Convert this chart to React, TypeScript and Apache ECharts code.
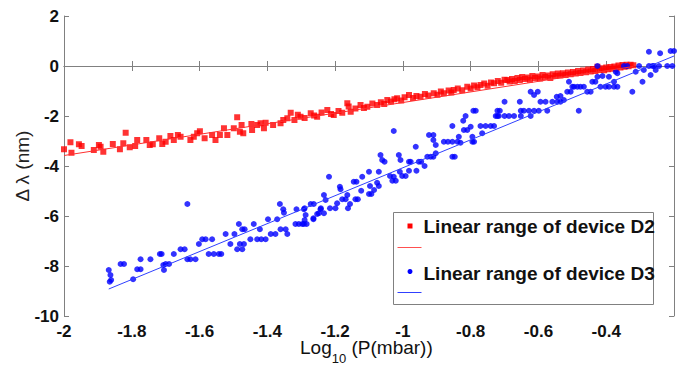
import React, { useEffect, useRef } from 'react';
import * as echarts from 'echarts';

const xMin = -2;
const xMax = -0.2;
const xStep = 0.2;
const yMin = -10;
const yMax = 2;
const yStep = 2;

const d2Name = 'Linear range of device D2';
const d3Name = 'Linear range of device D3';
const xTitleMain = 'Log';
const xTitleSub = '10';
const xTitleRest = ' (P(mbar))';
const yTitle = 'Δ λ (nm)';

const d2Points: number[][] = [
  [-2.0, -3.33], [-1.981, -3.05], [-1.978, -3.47], [-1.956, -3.13], [-1.948, -3.2], [-1.912, -3.36],
  [-1.897, -3.16], [-1.892, -3.23], [-1.884, -3.43], [-1.856, -3.12], [-1.835, -3.33], [-1.825, -3.09],
  [-1.818, -2.67], [-1.806, -3.25], [-1.79, -3.2], [-1.784, -2.96], [-1.757, -2.96], [-1.747, -3.16],
  [-1.738, -3.13], [-1.719, -2.89], [-1.71, -3.12], [-1.7, -3.03], [-1.686, -2.8], [-1.676, -2.96],
  [-1.664, -2.76], [-1.656, -2.83], [-1.627, -2.96], [-1.617, -2.83], [-1.607, -2.69], [-1.599, -2.61],
  [-1.585, -2.89], [-1.563, -2.76], [-1.553, -2.96], [-1.54, -2.76], [-1.528, -2.49], [-1.518, -2.76],
  [-1.499, -2.49], [-1.489, -2.05], [-1.481, -2.63], [-1.476, -2.36], [-1.471, -2.69], [-1.447, -2.32],
  [-1.445, -2.56], [-1.43, -2.36], [-1.42, -2.29], [-1.41, -2.49], [-1.405, -2.27], [-1.383, -2.36],
  [-1.361, -2.29], [-1.353, -2.16], [-1.341, -2.09], [-1.331, -1.87],
  [-1.32, -2.16], [-1.31, -1.95], [-1.302, -2.03], [-1.29, -2.08], [-1.272, -1.89], [-1.262, -1.98],
  [-1.253, -2.03], [-1.24, -1.86], [-1.223, -1.76], [-1.212, -1.92], [-1.204, -1.96], [-1.19, -1.8],
  [-1.179, -1.87], [-1.164, -1.49], [-1.16, -1.62], [-1.154, -1.83], [-1.14, -1.7], [-1.125, -1.56],
  [-1.115, -1.68], [-1.105, -1.63], [-1.09, -1.5], [-1.076, -1.56], [-1.065, -1.45], [-1.055, -1.52],
  [-1.046, -1.36], [-1.035, -1.42], [-1.025, -1.33], [-1.017, -1.29], [-1.005, -1.38], [-0.995, -1.25],
  [-0.982, -1.16], [-0.97, -1.28], [-0.96, -1.2], [-0.948, -1.23], [-0.935, -1.12], [-0.925, -1.18],
  [-0.909, -1.09], [-0.898, -1.15], [-0.888, -1.02], [-0.879, -1.09], [-0.865, -0.98], [-0.857, -1.06],
  [-0.85, -0.96], [-0.838, -0.9], [-0.825, -0.97], [-0.81, -0.83], [-0.8, -0.9], [-0.79, -0.78],
  [-0.78, -0.85], [-0.771, -0.76], [-0.76, -0.7], [-0.75, -0.79], [-0.74, -0.66], [-0.731, -0.69],
  [-0.72, -0.6], [-0.71, -0.67], [-0.7, -0.55], [-0.692, -0.56],
  [-0.685, -0.62], [-0.678, -0.52], [-0.67, -0.6], [-0.662, -0.48], [-0.655, -0.56], [-0.648, -0.44],
  [-0.64, -0.52], [-0.632, -0.46], [-0.625, -0.55], [-0.618, -0.4], [-0.61, -0.48], [-0.602, -0.42],
  [-0.595, -0.5], [-0.588, -0.36], [-0.58, -0.44], [-0.572, -0.38], [-0.565, -0.48], [-0.558, -0.33],
  [-0.55, -0.4], [-0.543, -0.3], [-0.535, -0.38], [-0.528, -0.29], [-0.52, -0.36], [-0.513, -0.26],
  [-0.505, -0.33], [-0.498, -0.24], [-0.49, -0.3], [-0.483, -0.2], [-0.476, -0.28], [-0.468, -0.18],
  [-0.46, -0.25], [-0.453, -0.14], [-0.446, -0.22], [-0.439, -0.12], [-0.432, -0.2], [-0.426, -0.03],
  [-0.42, -0.16], [-0.413, -0.09], [-0.406, -0.17], [-0.4, -0.06], [-0.394, -0.13], [-0.388, -0.04],
  [-0.382, -0.11], [-0.376, -0.02], [-0.37, -0.1], [-0.364, 0.02], [-0.358, -0.06], [-0.352, 0.04],
  [-0.346, -0.03], [-0.34, 0.05], [-0.334, -0.01], [-0.328, 0.05], [-0.32, 0.03],
];

const d3Points: number[][] = [
  [-1.868, -8.16], [-1.863, -8.36], [-1.861, -8.56], [-1.865, -8.63], [-1.833, -7.92], [-1.823, -7.92],
  [-1.796, -8.53], [-1.784, -8.13], [-1.774, -8.13], [-1.774, -7.73], [-1.745, -7.73], [-1.717, -7.52],
  [-1.712, -7.52], [-1.707, -7.96], [-1.7, -7.92], [-1.69, -7.92], [-1.705, -8.16], [-1.676, -7.52],
  [-1.656, -7.33], [-1.644, -7.33], [-1.636, -7.73], [-1.627, -7.73], [-1.612, -7.73], [-1.636, -5.52],
  [-1.602, -7.12], [-1.592, -6.93], [-1.582, -6.93], [-1.563, -6.93], [-1.573, -7.52], [-1.558, -7.52],
  [-1.543, -7.52], [-1.536, -7.52], [-1.523, -6.72], [-1.509, -7.12], [-1.497, -6.72], [-1.489, -7.33],
  [-1.474, -7.33], [-1.481, -7.12], [-1.469, -7.12], [-1.484, -6.32], [-1.474, -6.53], [-1.467, -6.53],
  [-1.45, -6.93], [-1.44, -6.32], [-1.43, -6.93], [-1.418, -6.93], [-1.405, -6.93], [-1.422, -6.53],
  [-1.398, -6.13], [-1.39, -6.72], [-1.376, -6.72], [-1.371, -6.13], [-1.361, -6.53], [-1.346, -6.53],
  [-1.341, -6.72], [-1.363, -5.52], [-1.353, -5.73], [-1.351, -5.87], [-1.317, -6.32], [-1.307, -6.32],
  [-1.292, -6.32], [-1.284, -6.32], [-1.314, -5.73], [-1.292, -5.73], [-1.272, -5.52], [-1.264, -6.13],
  [-1.253, -5.92], [-1.243, -5.73],
  [-1.29, -5.69], [-1.287, -5.96], [-1.29, -6.16], [-1.297, -6.32], [-1.264, -6.09], [-1.263, -5.52],
  [-1.248, -5.89], [-1.242, -5.69], [-1.233, -5.89], [-1.233, -5.16], [-1.228, -5.36], [-1.218, -4.43],
  [-1.215, -5.69], [-1.199, -5.69], [-1.194, -5.49], [-1.186, -4.83], [-1.184, -4.93], [-1.179, -5.33],
  [-1.169, -5.33], [-1.162, -5.69], [-1.156, -5.52], [-1.164, -5.16], [-1.145, -4.63], [-1.137, -4.63],
  [-1.14, -5.33], [-1.133, -5.33], [-1.123, -4.99], [-1.12, -4.43], [-1.1, -4.23], [-1.1, -5.12],
  [-1.093, -5.12], [-1.085, -4.96], [-1.097, -4.8], [-1.071, -4.8], [-1.076, -4.67], [-1.071, -4.23],
  [-1.066, -3.56], [-1.061, -3.76], [-1.054, -3.83], [-1.038, -4.4], [-1.031, -4.59], [-1.021, -4.59],
  [-1.027, -4.43], [-1.027, -2.6], [-1.012, -3.56], [-1.007, -3.76], [-1.009, -4.23], [-1.002, -4.4],
  [-0.992, -4.4], [-0.982, -4.19], [-0.982, -3.83], [-0.977, -3.83], [-0.962, -3.23], [-0.96, -4.19],
  [-0.953, -3.83], [-0.946, -3.83], [-0.936, -4.0], [-0.928, -3.63], [-0.918, -3.63], [-0.91, -3.63],
  [-0.903, -3.49], [-0.923, -2.76], [-0.91, -2.76], [-0.91, -2.96], [-0.903, -3.16], [-0.879, -3.03],
  [-0.867, -3.03], [-0.854, -3.03], [-0.839, -3.03], [-0.854, -2.4], [-0.854, -3.63], [-0.847, -3.63],
  [-0.835, -2.83], [-0.83, -3.07], [-0.822, -2.19], [-0.815, -2.0], [-0.82, -2.56], [-0.81, -2.56],
  [-0.8, -2.43], [-0.795, -2.83], [-0.795, -3.03], [-0.79, -3.03], [-0.792, -1.79], [-0.785, -1.79],
  [-0.771, -2.4], [-0.756, -2.4], [-0.741, -2.4], [-0.731, -2.4], [-0.766, -2.69], [-0.721, -1.79],
  [-0.714, -1.79], [-0.721, -2.0],
  [-0.7, -1.43], [-0.726, -2.0], [-0.717, -2.0], [-0.7, -2.0], [-0.687, -2.0], [-0.672, -2.0],
  [-0.652, -2.0], [-0.652, -1.79], [-0.643, -1.79], [-0.628, -1.79], [-0.613, -1.79], [-0.599, -1.79],
  [-0.655, -1.43], [-0.623, -1.03], [-0.613, -1.16], [-0.602, -1.03], [-0.623, -2.0], [-0.594, -1.43],
  [-0.579, -1.43], [-0.574, -1.79], [-0.559, -1.43], [-0.544, -1.43], [-0.535, -1.43], [-0.525, -1.36],
  [-0.546, -1.23], [-0.535, -1.2], [-0.515, -1.03], [-0.505, -1.03], [-0.5, -0.83], [-0.51, -0.63],
  [-0.495, -0.83], [-0.485, -0.83], [-0.476, -0.83], [-0.466, -0.83], [-0.456, -1.03], [-0.446, -1.03],
  [-0.481, -1.79], [-0.441, -0.63], [-0.432, -0.63], [-0.426, -0.43], [-0.417, -0.83], [-0.402, -0.83],
  [-0.392, -0.83], [-0.377, -0.83], [-0.367, -0.83], [-0.426, 0.0], [-0.411, -0.4], [-0.392, -0.43],
  [-0.377, -0.63], [-0.367, -0.29], [-0.372, -0.23], [-0.348, 0.0], [-0.338, 0.0], [-0.323, -1.03],
  [-0.313, -0.23], [-0.303, 0.0], [-0.293, -0.63], [-0.289, -0.16], [-0.274, 0.0], [-0.264, 0.0],
  [-0.259, 0.0], [-0.244, 0.0], [-0.269, -0.36], [-0.254, -0.16], [-0.274, 0.57], [-0.241, 0.51],
  [-0.22, 0.0], [-0.205, 0.0], [-0.21, 0.6], [-0.2, 0.6],
];

const d2Fit: number[][] = [[-2, -3.58], [-0.32, -0.02]];
const d3Fit: number[][] = [[-1.868, -8.92], [-0.2, 0.4]];

const FONT = "'Liberation Sans', Arial, sans-serif";
const AXIS_COLOR = '#808080';

export default function App() {
  const ref = useRef<HTMLDivElement>(null);
  useEffect(() => {
    if (!ref.current) return;
    const chart = echarts.init(ref.current, undefined, { renderer: 'svg' });
    const fmtX = (v: number) => (Math.abs(v - xMax) < 1e-6 ? '' : String(+v.toFixed(1)));
    const baseAxis = {
      axisLine: { show: true, lineStyle: { color: AXIS_COLOR, width: 1 } },
      axisTick: { show: true, inside: true, length: 5, lineStyle: { color: AXIS_COLOR } },
      splitLine: { show: false },
    };
    const gx = 64, gy = 16, gw = 610, gh = 300;
    const lx = 393, ly = 212;
    const titleX = 300, titleY = 347;
    const mainW = 31.7, subW = 14.5;
    chart.setOption({
      animation: false,
      backgroundColor: '#ffffff',
      grid: { left: gx, top: gy, width: gw, height: gh, containLabel: false, outerBoundsMode: 'none' },
      xAxis: [
        {
          type: 'value', min: xMin, max: xMax, interval: xStep, position: 'bottom',
          ...baseAxis,
          axisLabel: { formatter: fmtX, color: '#111', fontFamily: FONT, fontWeight: 'bold', fontSize: 17, margin: 7 },
        },
        {
          type: 'value', min: xMin, max: xMax, interval: xStep, position: 'top',
          ...baseAxis,
          axisLabel: { show: false },
        },
      ],
      yAxis: [
        {
          type: 'value', min: yMin, max: yMax, interval: yStep, position: 'left',
          ...baseAxis,
          axisLabel: { color: '#111', fontFamily: FONT, fontWeight: 'bold', fontSize: 17, margin: 5 },
          name: yTitle,
          nameLocation: 'middle',
          nameGap: 32,
          nameRotate: 90,
          nameMoveOverlap: false,
          nameTextStyle: { fontFamily: FONT, fontSize: 19, color: '#222' },
        },
        {
          type: 'value', min: yMin, max: yMax, interval: yStep, position: 'right',
          ...baseAxis,
          axisLabel: { show: false },
        },
      ],
      series: [
        {
          name: d2Name, type: 'scatter', data: d2Points, symbol: 'rect', symbolSize: 6,
          itemStyle: { color: '#ff0000' }, xAxisIndex: 0, yAxisIndex: 0, clip: true,
        },
        {
          type: 'line', data: d2Fit, symbol: 'none', lineStyle: { color: '#ff3030', width: 1 },
          xAxisIndex: 0, yAxisIndex: 0,
        },
        {
          name: d3Name, type: 'scatter', data: d3Points, symbol: 'circle', symbolSize: 6,
          itemStyle: { color: '#0000ff' }, xAxisIndex: 0, yAxisIndex: 0, clip: true,
        },
        {
          type: 'line', data: d3Fit, symbol: 'none', lineStyle: { color: '#3040ff', width: 1 },
          xAxisIndex: 0, yAxisIndex: 0,
        },
      ],
      graphic: [
        {
          type: 'text', x: titleX, y: titleY, z: 100,
          style: { text: xTitleMain, fontFamily: FONT, fontSize: 19, fill: '#111', align: 'left', verticalAlign: 'middle' },
        },
        {
          type: 'text', x: titleX + mainW, y: titleY + 11, z: 100,
          style: { text: xTitleSub, fontFamily: FONT, fontSize: 13, fill: '#111', align: 'left', verticalAlign: 'middle' },
        },
        {
          type: 'text', x: titleX + mainW + subW, y: titleY, z: 100,
          style: { text: xTitleRest, fontFamily: FONT, fontSize: 19, fill: '#111', align: 'left', verticalAlign: 'middle' },
        },
        {
          type: 'group', left: lx, top: ly, z: 100,
          children: [
            { type: 'rect', shape: { x: 0, y: 0, width: 260, height: 92 }, style: { fill: '#fff', stroke: AXIS_COLOR, lineWidth: 1 } },
            { type: 'rect', shape: { x: 14, y: 11, width: 5, height: 5 }, style: { fill: '#ff0000' } },
            { type: 'text', x: 30, y: 14, style: { text: d2Name, fontFamily: FONT, fontWeight: 'bold', fontSize: 19, fill: '#111', verticalAlign: 'middle' } },
            { type: 'line', shape: { x1: 4, y1: 35, x2: 28, y2: 35 }, style: { stroke: '#ff5050', lineWidth: 1 } },
            { type: 'circle', shape: { cx: 16.5, cy: 59, r: 2.5 }, style: { fill: '#0000ff' } },
            { type: 'text', x: 30, y: 61, style: { text: d3Name, fontFamily: FONT, fontWeight: 'bold', fontSize: 19, fill: '#111', verticalAlign: 'middle' } },
            { type: 'line', shape: { x1: 4, y1: 80, x2: 28, y2: 80 }, style: { stroke: '#3040ff', lineWidth: 1 } },
          ],
        },
      ],
    });
    return () => chart.dispose();
  }, []);
  return <div ref={ref} style={{ position: 'fixed', left: 0, top: 0, width: 686, height: 365 }} />;
}
